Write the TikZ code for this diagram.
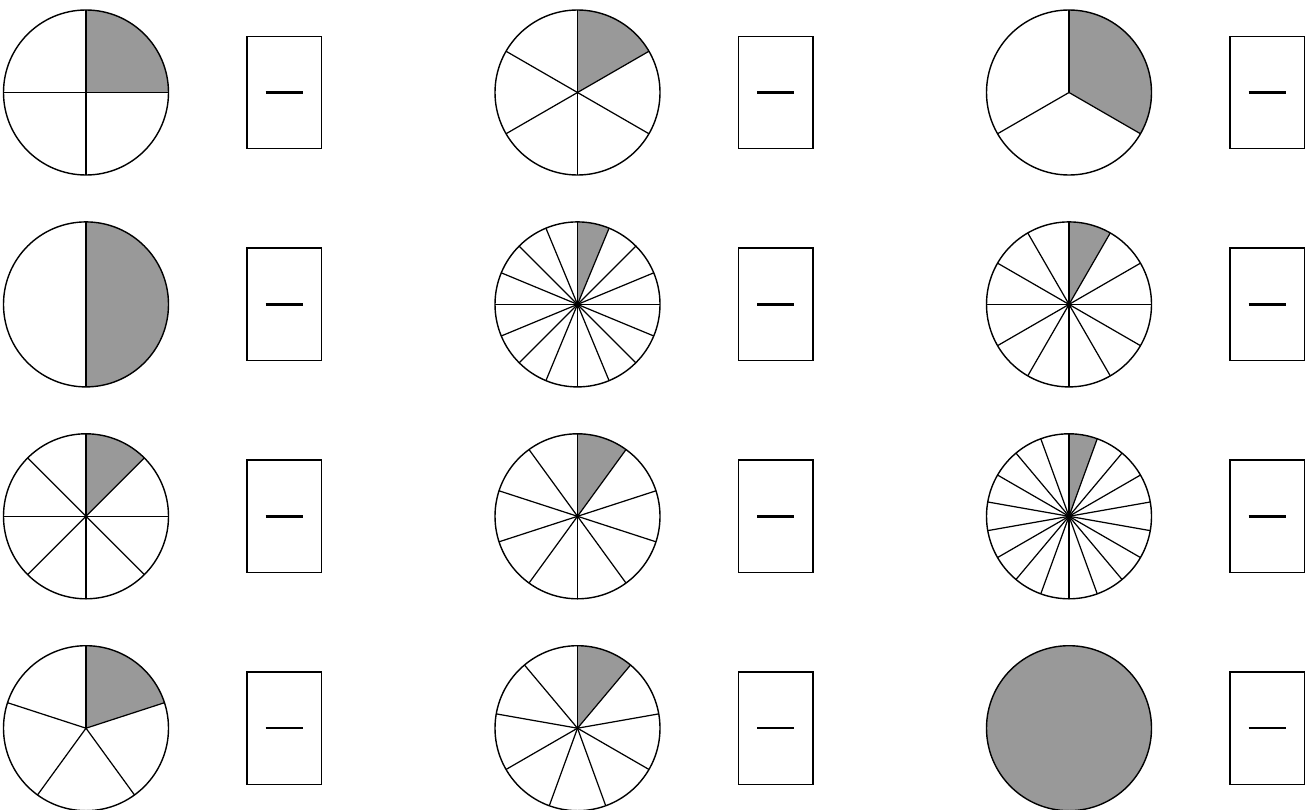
\documentclass[tikz,border=0pt]{standalone}
\usetikzlibrary{positioning}
\definecolor{partgray}{gray}{0.6}
\tikzset{
  pie/.style={
    circle, draw=black, line width=0.8pt, minimum size=3.3cm, inner sep=0pt
  },
  answerbox/.style={
    rectangle, draw=black, line width=0.8pt,
    minimum width=1.49cm, minimum height=2.25cm, inner sep=0pt
  },
  spoke/.style={line width=0.7pt, draw=black},
  bar/.style={line width=1.4pt, draw=black}
}

\begin{document}
\begin{tikzpicture}
\useasboundingbox (0,0) rectangle (26.24,16.18);

% ---------------- Pies, one shaded part each, with an empty answer box ----------------
\foreach \n [count=\i from 0] in {4,6,3,2,16,12,8,10,18,5,9,1} {
  \pgfmathsetmacro{\px}{1.72+mod(\i,3)*9.83}
  \pgfmathsetmacro{\py}{14.33-div(\i,3)*4.238}
  \coordinate (c\i) at (\px,\py);
  \fill[fill=partgray] (c\i) -- ++(90:1.65) arc[start angle=90, end angle={90-360/\n}, radius=1.65cm] -- cycle;
  \ifnum\n>1
    \foreach \k in {1,...,\n}
      \draw[spoke] (c\i) -- ++({90-\k*360/\n}:1.65);
  \fi
  \node[pie] (pie\i) at (c\i) {};
  \node[answerbox, right=1.54cm of pie\i] (box\i) {};
  \draw[bar] ([xshift=-0.37cm]box\i.center) -- ([xshift=0.37cm]box\i.center);
}

\end{tikzpicture}
\end{document}
